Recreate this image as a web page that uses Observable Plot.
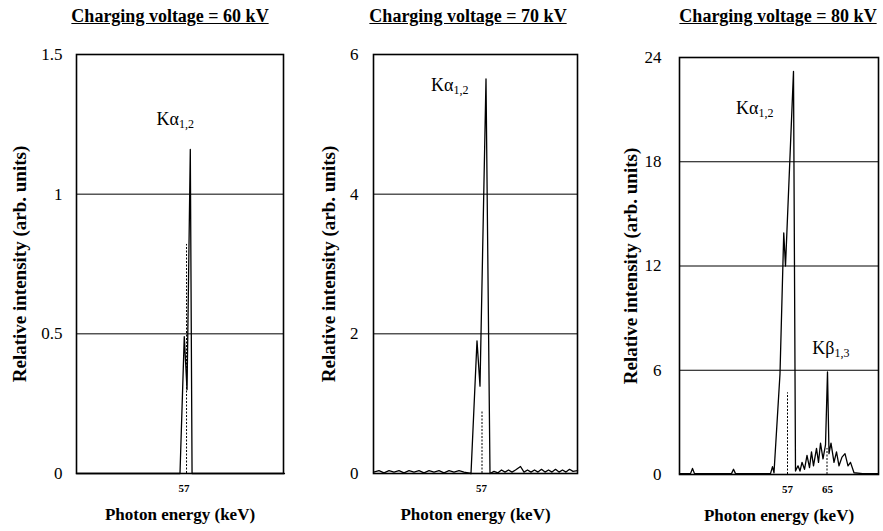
<!DOCTYPE html>
<html><head><meta charset="utf-8">
<script src="https://cdn.jsdelivr.net/npm/d3@7"></script>
<script src="https://cdn.jsdelivr.net/npm/@observablehq/plot@0.6"></script>
<style>
body{margin:0;background:#fff;}
#wrap{position:relative;width:883px;height:531px;overflow:hidden;font-family:"Liberation Serif","Times New Roman","DejaVu Serif",serif;color:#000;}
.panel{position:absolute;top:0;}
.ttl{position:absolute;top:6px;font-weight:bold;font-size:18px;text-decoration:underline;white-space:nowrap;transform:translateX(-50%);}
</style></head><body><div id="wrap"></div>
<script>
// ---------- data ----------
const titles = ["Charging voltage = 60 kV", "Charging voltage = 70 kV", "Charging voltage = 80 kV"];
const yLabel = "Relative intensity (arb. units)";
const xLabel = "Photon energy (keV)";

const yTicks60 = [0, 0.5, 1, 1.5];
const yTicks70 = [0, 2, 4, 6];
const yTicks80 = [0, 6, 12, 18, 24];
const xTicks60 = [57];
const xTicks70 = [57];
const xTicks80 = [57, 65];

// 60 kV spectrum
const energy60 = [35.6, 40, 45, 50, 54, 56.2, 57.05, 57.6, 58.25, 58.6, 62, 66, 70, 77];
const intensity60 = [0, 0, 0, 0, 0, 0, 0.49, 0.3, 1.16, 0, 0, 0, 0, 0];
const dotEnergy60 = [57.5];
const dotValue60 = [0.82];

// 70 kV spectrum
const energy70 = [35.4, 36.5, 37.5, 38.5, 39.5, 40.5, 41.5, 42.5, 43.5, 44.5, 45.5, 46.5, 47.5, 48.5, 49.5, 50.5, 51.5, 52.5, 53.5, 54.9,
  56.1, 56.7, 57.9, 58.7, 59.5, 60.3, 61.0, 61.7, 62.4, 63.1, 63.8, 64.8, 65.5, 66.2, 66.9, 67.6, 68.3, 69.0, 69.7, 70.4, 71.1, 71.8, 72.5, 73.2, 73.9, 74.6, 75.3, 76.2];
const intensity70 = [0.02, 0.04, 0.01, 0.04, 0.02, 0.04, 0.01, 0.04, 0.02, 0.04, 0.01, 0.04, 0.02, 0.04, 0.01, 0.04, 0.02, 0.04, 0.02, 0,
  1.9, 1.25, 5.65, 0, 0.03, 0.01, 0.05, 0.02, 0.05, 0.02, 0.05, 0.1, 0.02, 0.05, 0.02, 0.05, 0.02, 0.06, 0.02, 0.05, 0.02, 0.06, 0.02, 0.05, 0.02, 0.06, 0.03, 0.04];
const dotEnergy70 = [57.1];
const dotValue70 = [0.9];

// 80 kV spectrum
const energy80 = [35.4, 37.6, 38.0, 38.4, 42, 45.8, 46.2, 46.6, 50, 53.6, 54.0, 54.3, 55.5, 56.25, 56.6, 58.2, 58.6,
  59.1, 59.5, 59.9, 60.4, 60.9, 61.4, 61.8, 62.2, 62.8, 63.2, 63.6, 64.1, 64.6, 65.0, 65.3, 65.7, 66.3, 66.8, 67.3, 67.9, 68.5, 69.1, 69.6, 70.3, 72, 75.2];
const intensity80 = [0.05, 0.05, 0.35, 0.05, 0.05, 0.05, 0.3, 0.05, 0.05, 0.05, 0.45, 0.1, 5.8, 13.9, 12, 23.2, 0.2,
  0.5, 0.2, 0.7, 0.3, 1.1, 0.4, 1.3, 0.5, 1.5, 0.7, 1.8, 0.9, 1.7, 5.9, 1.2, 1.8, 0.7, 1.3, 0.5, 1.0, 1.2, 0.5, 0.7, 0.1, 0.05, 0.05];
const dotEnergy80 = [57.0, 64.9];
const dotValue80 = [4.7, 1.5];

// peak labels
const peakMain60 = ["Kα"], peakSub60 = ["1,2"], peakE60 = [56.0], peakV60 = [1.27];
const peakMain70 = ["Kα"], peakSub70 = ["1,2"], peakE70 = [51.4], peakV70 = [5.56];
const peakMain80 = ["Kα", "Kβ"], peakSub80 = ["1,2", "1,3"], peakE80 = [51.2, 66.4], peakV80 = [21.1, 7.25];

// ---------- drawing ----------
const FONT = "'Liberation Serif', 'Times New Roman', 'DejaVu Serif', serif";
function panel(o) {
  const spec = o.energy.map((e, i) => ({e, v: o.intensity[i]}));
  const dots = o.dotE.map((e, i) => ({e, v: o.dotV[i]}));
  const labs = o.pMain.map((m, i) => ({m, s: o.pSub[i], e: o.pE[i], v: o.pV[i]}));
  return Plot.plot({
    width: o.width, height: 531,
    marginLeft: o.mL, marginRight: o.mR, marginTop: o.mT, marginBottom: o.mB,
    style: {fontFamily: FONT, background: "white", color: "black", overflow: "visible"},
    x: {domain: o.xDomain},
    y: {domain: o.yDomain},
    marks: [
      Plot.gridY(o.yTicks, {stroke: "black", strokeOpacity: 1, strokeWidth: 1}),
      Plot.axisY(o.yTicks, {tickSize: 0, tickPadding: o.yPad, fontSize: 17, fontFamily: FONT, tickFormat: d => String(d), label: null}),
      Plot.axisX(o.xTicks, {tickSize: 0, tickPadding: 11, fontSize: 11, fontWeight: "bold", fontFamily: FONT, tickFormat: d => String(d), label: null}),
      Plot.ruleX(dots, {x: "e", y1: 0, y2: "v", stroke: "black", strokeWidth: 1, strokeDasharray: "2,1.5"}),
      Plot.line(spec, {x: "e", y: "v", stroke: "black", strokeWidth: 1.3}),
      Plot.frame({stroke: "black", strokeWidth: 1.6}),
      Plot.text([yLabel], {frameAnchor: "left", textAnchor: "middle", lineAnchor: "middle", dx: o.yLabDx, rotate: -90, fontSize: 19, fontWeight: "bold", fontFamily: FONT}),
      Plot.text([xLabel], {frameAnchor: "bottom", textAnchor: "middle", lineAnchor: "middle", dy: 41, fontSize: 17, fontWeight: "bold", fontFamily: FONT}),
      Plot.text(labs, {x: "e", y: "v", text: "m", textAnchor: "end", fontSize: 18, fontFamily: FONT}),
      Plot.text(labs, {x: "e", y: "v", text: "s", textAnchor: "start", dy: 5, fontSize: 12, fontFamily: FONT})
    ]
  });
}

const wrap = document.getElementById("wrap");
const cfgs = [
  {left: 0, width: 293, mL: 76, mR: 10, mT: 54, mB: 58, xDomain: [35.6, 76.8], yDomain: [0, 1.5], yTicks: yTicks60, xTicks: xTicks60,
   energy: energy60, intensity: intensity60, dotE: dotEnergy60, dotV: dotValue60, pMain: peakMain60, pSub: peakSub60, pE: peakE60, pV: peakV60,
   yPad: 14, yLabDx: -57, tx: 170},
  {left: 293, width: 295, mL: 80, mR: 11, mT: 54, mB: 58, xDomain: [35.4, 76.2], yDomain: [0, 6], yTicks: yTicks70, xTicks: xTicks70,
   energy: energy70, intensity: intensity70, dotE: dotEnergy70, dotV: dotValue70, pMain: peakMain70, pSub: peakSub70, pE: peakE70, pV: peakV70,
   yPad: 15, yLabDx: -45, tx: 468},
  {left: 588, width: 295, mL: 91, mR: 5, mT: 57, mB: 57, xDomain: [35.4, 75.2], yDomain: [0, 24], yTicks: yTicks80, xTicks: xTicks80,
   energy: energy80, intensity: intensity80, dotE: dotEnergy80, dotV: dotValue80, pMain: peakMain80, pSub: peakSub80, pE: peakE80, pV: peakV80,
   yPad: 18, yLabDx: -49, tx: 778}
];
cfgs.forEach((c, i) => {
  const d = document.createElement("div");
  d.className = "panel";
  d.style.left = c.left + "px";
  d.appendChild(panel(c));
  wrap.appendChild(d);
  const t = document.createElement("div");
  t.className = "ttl";
  t.style.left = c.tx + "px";
  t.textContent = titles[i];
  wrap.appendChild(t);
});
</script>
</body></html>
